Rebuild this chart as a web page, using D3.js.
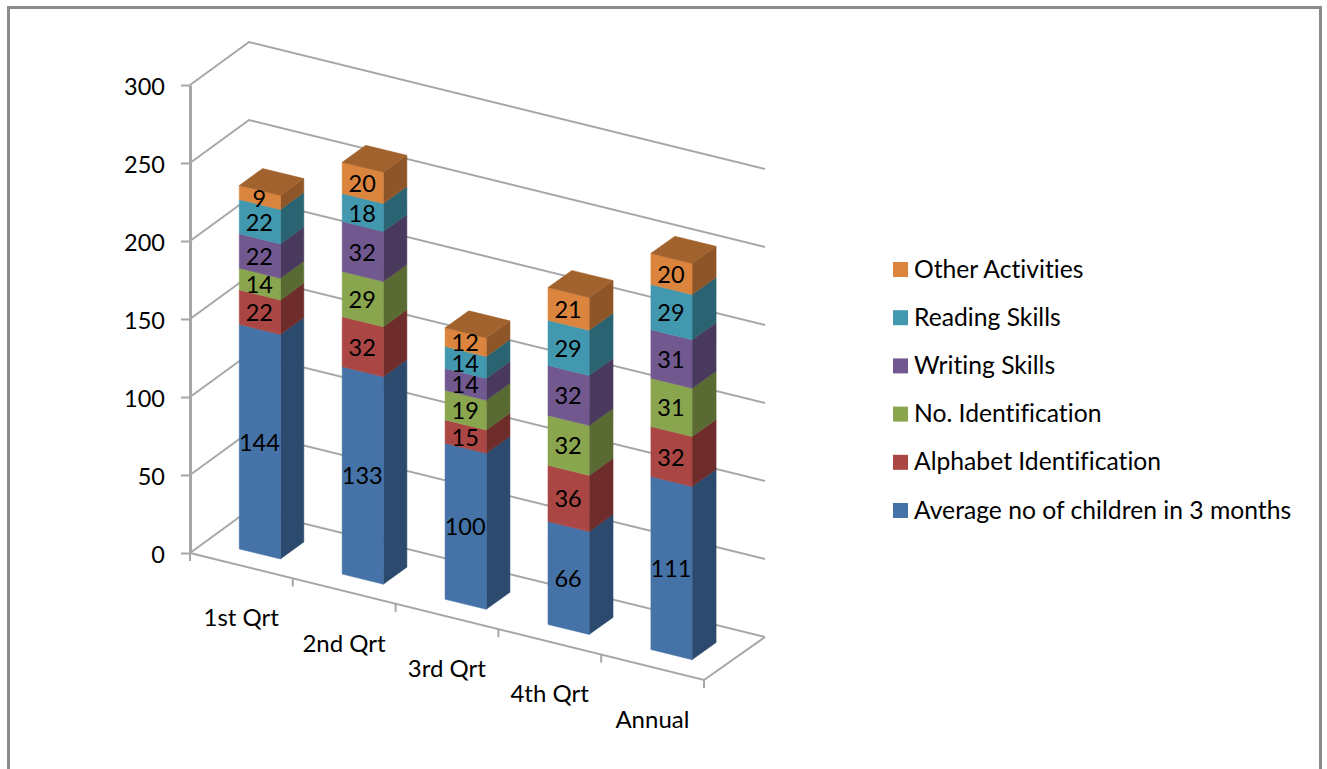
<!DOCTYPE html>
<html>
<head>
<meta charset="utf-8">
<script src="https://d3js.org/d3.v7.min.js"></script>
<style>
  body { margin: 0; background: #fff; }
  text { font-family: Lato, "Open Sans", sans-serif; fill: #000; font-variant-ligatures: none; }
</style>
</head>
<body>
<div id="chart-area"></div>
<script>
// Values
var categories = ["1st Qrt", "2nd Qrt", "3rd Qrt", "4th Qrt", "Annual"];
var seriesNames = ["Average no of children in 3 months", "Alphabet Identification", "No. Identification", "Writing Skills", "Reading Skills", "Other Activities"];
var averageChildren = [144, 133, 100, 66, 111];
var alphabetId = [22, 32, 15, 36, 32];
var numberId = [14, 29, 19, 32, 31];
var writingSkills = [22, 32, 14, 32, 31];
var readingSkills = [22, 18, 14, 29, 29];
var otherActivities = [9, 20, 12, 21, 20];
var yTicks = [0, 50, 100, 150, 200, 250, 300];

var frontColors = ["#4572A7", "#AA4643", "#89A54E", "#71588F", "#4198AF", "#DB843D"];
var sideColors = ["#2C4A6E", "#6E2D2B", "#596B32", "#49395D", "#2A6371", "#8E5628"];
var topColor = "#A2622D";
var gridColor = "#A6A6A6";

var svg = d3.select("#chart-area").append("svg")
    .attr("width", 1327)
    .attr("height", 769)
    .style("display", "block");

// outer chart frame, the bottom runs off the page
svg.append("path")
    .attr("d", "M8.5,775V7.5H1320.5V775")
    .attr("fill", "none")
    .attr("stroke", "#8C8C8C")
    .attr("stroke-width", 3);

var y = d3.scaleLinear().domain([0, 300]).range([553, 85]);

// band along the front edge of the floor, 0 = left corner, 1 = right corner
var x = d3.scaleBand()
    .domain(categories)
    .range([0, 1])
    .paddingInner(0.6)
    .paddingOuter(0.3)
    .align(0.53);

var barDepth = [0.28, 0.675];

// oblique projection of the 3D box, u along the front edge, v towards the back wall
// the small u terms stand in for the perspective of the original
function project(u, v, value) {
    return [
        190 + 514 * u + (59 + 2 * u) * v,
        y(value) + 127 * u - 43 * v - 6 * u * v * (1 - v)
    ];
}

function poly(points) {
    return "M" + points.map(p => p.join(",")).join("L") + "Z";
}

var line = d3.line();

// walls and gridlines
var grid = svg.append("g");
grid.selectAll("path")
    .data(yTicks)
    .enter()
    .append("path")
    .attr("d", d => line([project(0, 0, d), project(0, 1, d), project(1, 1, d)]))
    .attr("fill", "none")
    .attr("stroke", gridColor)
    .attr("stroke-width", 2);

// floor front and right edges
grid.append("path")
    .attr("d", line([project(0, 0, 0), project(1, 0, 0), project(1, 1, 0)]))
    .attr("fill", "none")
    .attr("stroke", gridColor)
    .attr("stroke-width", 2);

// y axis
var yAxis = d3.axisLeft(y).tickValues(yTicks).tickSize(9).tickPadding(16).tickSizeOuter(0);
var yG = svg.append("g")
    .attr("transform", "translate(190,0)")
    .call(yAxis);
yG.select(".domain").attr("stroke", gridColor).attr("stroke-width", 3);
yG.selectAll(".tick line").attr("stroke", gridColor).attr("stroke-width", 2);
yG.selectAll(".tick text")
    .attr("font-size", "23.5px")
    .attr("dy", "0.42em")
    .style("font-family", "Lato, 'Open Sans', sans-serif")
    .attr("fill", "#000");

// x axis ticks on the slanted front edge
var xTickPos = d3.range(0, categories.length + 1).map(i => i / categories.length);
svg.append("g").selectAll("path")
    .data(xTickPos)
    .enter()
    .append("path")
    .attr("d", d => {
        var p = project(d, 0, 0);
        return line([p, [p[0], p[1] + 8]]);
    })
    .attr("stroke", gridColor)
    .attr("stroke-width", 2);

svg.append("g").selectAll("text")
    .data(categories)
    .enter()
    .append("text")
    .attr("x", d => project(x(d) + x.bandwidth() / 2 - 0.004, 0, 0)[0])
    .attr("y", d => project(x(d) + x.bandwidth() / 2 - 0.004, 0, 0)[1] + 51)
    .attr("text-anchor", "middle")
    .attr("dominant-baseline", "central")
    .attr("font-size", "24px")
    .text(d => d);

// stacked bars
var table = categories.map((c, i) => {
    var row = { category: c };
    [averageChildren, alphabetId, numberId, writingSkills, readingSkills, otherActivities]
        .forEach((s, j) => { row[seriesNames[j]] = s[i]; });
    return row;
});
var stacked = d3.stack().keys(seriesNames)(table);

var bars = svg.append("g").selectAll("g")
    .data(categories)
    .enter()
    .append("g");

bars.each(function (cat, i) {
    var g = d3.select(this);
    var u0 = x(cat), u1 = x(cat) + x.bandwidth();
    var v0 = barDepth[0], v1 = barDepth[1];

    stacked.forEach((layer, j) => {
        var a = layer[i][0], b = layer[i][1];
        g.append("path")
            .attr("d", poly([project(u1, v0, a), project(u1, v1, a), project(u1, v1, b), project(u1, v0, b)]))
            .attr("fill", sideColors[j])
            .attr("stroke", sideColors[j])
            .attr("stroke-width", 0.5);
        g.append("path")
            .attr("d", poly([project(u0, v0, a), project(u1, v0, a), project(u1, v0, b), project(u0, v0, b)]))
            .attr("fill", frontColors[j])
            .attr("stroke", frontColors[j])
            .attr("stroke-width", 0.5);
    });

    var total = stacked[stacked.length - 1][i][1];
    g.append("path")
        .attr("d", poly([project(u0, v0, total), project(u1, v0, total), project(u1, v1, total), project(u0, v1, total)]))
        .attr("fill", topColor)
        .attr("stroke", topColor)
        .attr("stroke-width", 0.5);

    // value labels at the middle of the front face
    stacked.forEach(layer => {
        var a = layer[i][0], b = layer[i][1];
        var p = project((u0 + u1) / 2, v0, (a + b) / 2);
        g.append("text")
            .attr("x", p[0] - 0.5)
            .attr("y", p[1])
            .attr("text-anchor", "middle")
            .attr("dominant-baseline", "central")
            .attr("font-size", "23.5px")
            .text(b - a);
    });
});

// legend, top entry is the last series
var legendNames = seriesNames.slice().reverse();
var legendY = d3.scalePoint().domain(legendNames).range([269.5, 510.5]);
var legendColor = d3.scaleOrdinal().domain(seriesNames).range(frontColors);

var legend = svg.append("g").selectAll("g")
    .data(legendNames)
    .enter()
    .append("g")
    .attr("transform", d => `translate(893,${legendY(d)})`);

legend.append("rect")
    .attr("x", 0)
    .attr("y", -7.5)
    .attr("width", 15)
    .attr("height", 15)
    .attr("fill", d => legendColor(d));

legend.append("text")
    .attr("x", 21)
    .attr("y", -1.5)
    .attr("dominant-baseline", "central")
    .attr("font-size", "24.7px")
    .text(d => d);
</script>
</body>
</html>
